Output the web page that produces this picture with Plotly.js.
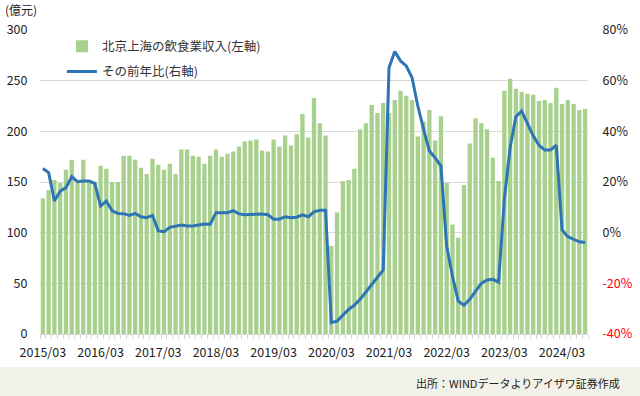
<!DOCTYPE html>
<html>
<head>
<meta charset="utf-8">
<script src="https://cdn.plot.ly/plotly-3.0.1.min.js"></script>
<style>html,body{margin:0;padding:0;background:#fff;}#chart{width:640px;height:396px;}</style>
</head>
<body>
<div id="chart"></div>
<script>
// Categories (Jan/Feb not shown separately)
const categories = [
 "2015/03","2015/04","2015/05","2015/06","2015/07","2015/08","2015/09","2015/10","2015/11","2015/12",
 "2016/03","2016/04","2016/05","2016/06","2016/07","2016/08","2016/09","2016/10","2016/11","2016/12",
 "2017/03","2017/04","2017/05","2017/06","2017/07","2017/08","2017/09","2017/10","2017/11","2017/12",
 "2018/03","2018/04","2018/05","2018/06","2018/07","2018/08","2018/09","2018/10","2018/11","2018/12",
 "2019/03","2019/04","2019/05","2019/06","2019/07","2019/08","2019/09","2019/10","2019/11","2019/12",
 "2020/03","2020/04","2020/05","2020/06","2020/07","2020/08","2020/09","2020/10","2020/11","2020/12",
 "2021/03","2021/04","2021/05","2021/06","2021/07","2021/08","2021/09","2021/10","2021/11","2021/12",
 "2022/03","2022/04","2022/05","2022/06","2022/07","2022/08","2022/09","2022/10","2022/11","2022/12",
 "2023/03","2023/04","2023/05","2023/06","2023/07","2023/08","2023/09","2023/10","2023/11","2023/12",
 "2024/03","2024/04","2024/05","2024/06","2024/07"
];
// 北京上海の飲食業収入 (億元)
const revenue = [
 134,142,152,149,162,172,150,172,152,150,
 166,163,150,150,176,176,172,164,158,173,
 167,162,168,158,182,182,176,175,168,176,
 182,175,178,180,185,190,191,192,181,180,
 192,185,196,186,197,217,194,233,208,196,
 87,120,151,152,163,202,208,226,218,228,
 218,231,240,235,231,195,210,221,191,215,
 149,108,95,147,188,213,208,202,174,151,
 240,252,242,239,237,236,230,231,228,243,
 227,231,227,221,222
];
// 前年比 (%)
const yoy = [
 25.3,23.7,12.5,16.4,17.8,22.1,20.1,20.4,20.4,19.5,
 10.5,12.5,8.6,7.6,7.5,6.8,7.6,6.3,5.9,6.8,
 0.7,0.4,2.1,2.6,3.0,2.6,2.6,3.0,3.4,3.3,
 7.9,7.9,7.9,8.7,7.4,7.1,7.2,7.5,7.4,7.1,
 5.3,5.3,6.3,5.9,6.1,7.0,6.3,8.2,8.8,8.8,
 -35.5,-34.9,-32.6,-30.3,-28.6,-26.3,-23.4,-20.4,-17.8,-14.7,
 65.1,71.5,67.8,65.8,61.2,50.0,40.8,32.2,29.6,26.3,
 -5.3,-17.1,-27.0,-28.7,-26.3,-23.2,-20.0,-18.7,-18.4,-19.5,
 13.2,33.6,45.8,48.0,43.2,38.2,34.5,32.6,32.6,34.5,
 1.1,-1.6,-2.6,-3.6,-3.9
];
const leftTicks = [0,50,100,150,200,250,300];
const rightTicks = [-40,-20,0,20,40,60,80];
const xLabelEvery = 10;

const xIdx = categories.map((_, i) => i);
const xTickVals = xIdx.filter(i => i % xLabelEvery === 0);
const xTickText = xTickVals.map(i => categories[i]);
const rightTickText = rightTicks.map(v => v < 0 ? '<span style="color:#ff0000">' + v + '%</span>' : v + '%');

const FONT = '"Noto Sans CJK JP", "Noto Sans", sans-serif';

const traces = [
  {
    type: 'bar', name: '北京上海の飲食業収入(左軸)', x: xIdx, y: revenue,
    marker: {color: '#a9d18e'}, yaxis: 'y', legendgroup: 'a', hoverinfo: 'skip'
  },
  {
    type: 'scatter', mode: 'lines', name: 'その前年比(右軸)', x: xIdx, y: yoy,
    line: {color: '#2e75b6', width: 3}, yaxis: 'y2', legendgroup: 'b', hoverinfo: 'skip'
  }
];

const layout = {
  width: 640, height: 396,
  margin: {l: 40, r: 52, t: 30, b: 62},
  paper_bgcolor: '#ffffff', plot_bgcolor: 'rgba(0,0,0,0)',
  font: {family: FONT, size: 12, color: '#333333'},
  bargap: 0.25,
  showlegend: true,
  legend: {
    x: 0.04, y: 0.995, xanchor: 'left', yanchor: 'top',
    bgcolor: 'rgba(0,0,0,0)', traceorder: 'grouped', tracegroupgap: 6,
    font: {family: FONT, size: 12.5, color: '#333333'}
  },
  xaxis: {
    range: [-0.5, categories.length - 0.5],
    tickmode: 'array', tickvals: xTickVals, ticktext: xTickText,
    ticks: 'outside', ticklen: 7, tickcolor: 'rgba(0,0,0,0)',
    showgrid: false, zeroline: false,
    showline: true, linecolor: '#d9d9d9', linewidth: 1,
    tickfont: {family: FONT, size: 12.5, color: '#222222'},
    minor: {ticks: 'outside', tick0: -0.5, dtick: 1, ticklen: 4, tickcolor: '#d9d9d9', tickwidth: 1, showgrid: false}
  },
  yaxis: {
    range: [0, 300], tickmode: 'array', tickvals: leftTicks,
    showgrid: true, gridcolor: '#d9d9d9', gridwidth: 1, zeroline: false,
    ticks: 'outside', ticklen: 9, tickcolor: 'rgba(0,0,0,0)',
    tickfont: {family: FONT, size: 12.5, color: '#222222'}
  },
  yaxis2: {
    range: [-40, 80], overlaying: 'y', side: 'right',
    tickmode: 'array', tickvals: rightTicks, ticktext: rightTickText,
    showgrid: false, zeroline: false,
    ticks: 'outside', ticklen: 11, tickcolor: 'rgba(0,0,0,0)',
    tickfont: {family: FONT, size: 12.5, color: '#222222'}
  },
  shapes: [
    {type: 'rect', xref: 'paper', yref: 'paper', x0: -0.08, x1: 1.1,
     y0: (334 - 367) / 304, y1: (334 - 400) / 304, fillcolor: '#f3f2ea', line: {width: 0}, layer: 'below'}
  ],
  annotations: [
    {text: '(億元)', xref: 'paper', yref: 'paper', x: -0.068, y: 1.0 + 20 / 304, xanchor: 'left', yanchor: 'middle',
     showarrow: false, font: {family: FONT, size: 12, color: '#222222'}},
    {text: '出所：WINDデータよりアイザワ証券作成', xref: 'paper', yref: 'paper', x: (622 - 40) / 548, y: (334 - 383) / 304,
     xanchor: 'right', yanchor: 'middle', showarrow: false, font: {family: FONT, size: 11, color: '#222222'}}
  ]
};

Plotly.newPlot('chart', traces, layout, {staticPlot: true, displayModeBar: false});
</script>
</body>
</html>
